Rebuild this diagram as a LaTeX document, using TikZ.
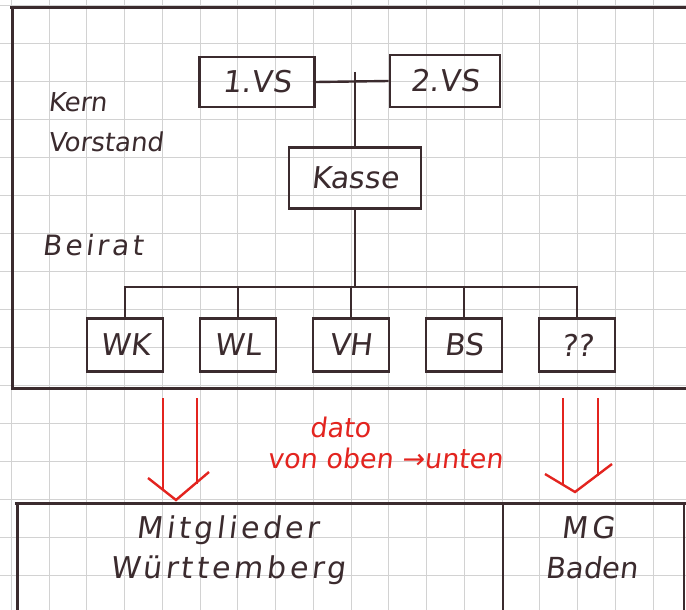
\documentclass[tikz,border=0pt]{standalone}
\usepackage{fontspec}
\usetikzlibrary{positioning, calc}
\newfontfamily\hand{DejaVu Sans}[FakeSlant=0.12]
\newfontfamily\handwide{DejaVu Sans}[FakeSlant=0.12, LetterSpace=12]
\definecolor{ink}{HTML}{3B2B2E}
\definecolor{redink}{HTML}{E3241F}
\definecolor{gridgray}{HTML}{D2D2D2}

\begin{document}
\begin{tikzpicture}[
  x=1pt, y=-1pt,
  frame/.style={draw=ink, line width=3pt},
  wire/.style={draw=ink, line width=2.4pt},
  redline/.style={draw=redink, line width=2.4pt},
  box/.style={rectangle, draw=ink, line width=2.6pt, minimum width=#1,
              minimum height=53pt, inner sep=0pt, text=ink,
              font=\hand\fontsize{30}{32}\selectfont},
  box/.default=76pt,
  lbl/.style={anchor=base west, inner sep=0pt, text=ink,
              font=\hand\fontsize{26}{28}\selectfont},
  wide/.style={anchor=base, inner sep=0pt, text=ink,
               font=\handwide\fontsize{30}{32}\selectfont},
  redlbl/.style={anchor=base, inner sep=0pt, text=redink,
                 font=\hand\fontsize{27}{29}\selectfont}
]
  \useasboundingbox (0,0) rectangle (686,610);
  \fill[white] (0,0) rectangle (686,610);

  % squared paper
  \foreach \i in {0,...,17}
    \draw[gridgray, line width=0.6pt] ({11.25+37.75*\i},0) -- ({11.25+37.75*\i},610);
  \foreach \j in {0,...,15}
    \draw[gridgray, line width=0.6pt] (0,{5+38*\j}) -- (686,{5+38*\j});

  % upper frame
  \coordinate (tl) at (12,8);
  \coordinate (tr) at (686,8);
  \coordinate (bl) at (12,388);
  \coordinate (br) at (686,388);
  \draw[frame] (10,8) -- (tr);
  \draw[frame] (tl) -- (bl) -- (br);

  % Kern Vorstand
  \node[box=115pt, minimum height=50pt] (vs1) at (257,82) {1.VS};
  \node[box=110pt, minimum height=52pt] (vs2) at (445,81) {2.VS};
  \node[box=132pt, minimum height=61pt] (kasse) at (355,178) {Kasse};
  \draw[wire] (vs1.east) -- (vs2.west);
  \coordinate (vtop) at (kasse.north |- 0,72);
  \draw[wire] (vtop) -- (kasse.north);

  \node[lbl] (kern) at (48,112) {Kern};
  \node[lbl] (vorstand) at (48,151) {Vorstand};

  % Beirat
  \node[lbl, font=\handwide\fontsize{28}{30}\selectfont] (beirat) at (42,255) {Beirat};
  \node[box] (wk) at (125,345) {WK};
  \node[box] (wl) at (238,345) {WL};
  \node[box] (vh) at (351,345) {VH};
  \node[box] (bs) at (464,345) {BS};
  \node[box] (qq) at (577,345) {??};
  \coordinate (bus) at (kasse.south |- 0,287);
  \draw[wire] (kasse.south) -- (bus);
  \foreach \b in {wk,wl,vh,bs,qq}
    \draw[wire] (\b.north) |- (bus);

  % red arrows
  \coordinate (la) at (180,398);
  \coordinate (ra) at (580,398);
  \draw[redline] ($(la)+(-17,0)$) -- (163,490);
  \draw[redline] ($(la)+(17,0)$) -- (197,484);
  \draw[redline] (148,478) -- (176,500) -- (209,472);
  \draw[redline] ($(ra)+(-17,0)$) -- (563,484);
  \draw[redline] ($(ra)+(18,0)$) -- (598,476);
  \draw[redline] (545,474) -- (575,492) -- (612,464);

  \node[redlbl] (dato) at (340,437) {dato};
  \node[redlbl] (richtung) at (385,468) {von oben →unten};

  % lower frame
  \draw[frame] (15,503) -- (686,503);
  \draw[frame] (17,503) -- (17,610);
  \draw[frame, line width=2.2pt] (503,503) -- (503,610);
  \draw[frame, line width=1.6pt] (684,503) -- (684,610);

  \node[wide] (mitglieder) at (228,538) {Mitglieder};
  \node[wide] (wuertt) at (228,578) {Württemberg};
  \node[wide] (mg) at (588,538) {MG};
  \node[lbl, anchor=base, font=\hand\fontsize{29}{31}\selectfont] (baden) at (592,578) {Baden};
\end{tikzpicture}
\end{document}
